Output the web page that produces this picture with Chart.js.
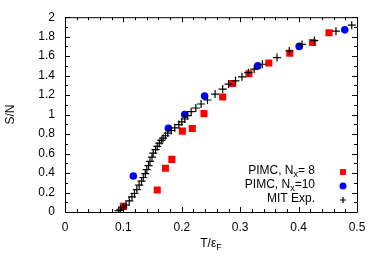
<!DOCTYPE html>
<html>
<head>
<meta charset="utf-8">
<script src="https://cdn.jsdelivr.net/npm/chart.js@4"></script>
<style>
  html, body { margin: 0; padding: 0; background: #fff; }
  canvas { display: block; }
</style>
</head>
<body>
<canvas id="chart" width="382" height="268"></canvas>
<script>
// PIMC, Nx = 8
const tPimc8 = [0.100, 0.158, 0.172, 0.183, 0.201, 0.218, 0.238, 0.270, 0.287, 0.315, 0.349, 0.385, 0.424, 0.452];
const sPimc8 = [0.058, 0.225, 0.45, 0.54, 0.83, 0.857, 1.01, 1.18, 1.32, 1.42, 1.53, 1.63, 1.74, 1.84];

// PIMC, Nx = 10
const tPimc10 = [0.117, 0.177, 0.205, 0.239, 0.330, 0.401, 0.479];
const sPimc10 = [0.37, 0.86, 1.00, 1.19, 1.50, 1.70, 1.87];

// MIT experiment
const tMit = [0.092, 0.095, 0.0998, 0.1045, 0.110, 0.1147, 0.119, 0.123, 0.127, 0.131, 0.134, 0.1375, 0.140, 0.143, 0.1455, 0.149, 0.151, 0.155, 0.158, 0.1615, 0.165, 0.168, 0.172, 0.176, 0.182, 0.188, 0.195, 0.200, 0.205, 0.210, 0.216, 0.224, 0.233, 0.244, 0.257, 0.270, 0.280, 0.292, 0.303, 0.314, 0.324, 0.338, 0.363, 0.384, 0.406, 0.427, 0.464, 0.491];
const sMit = [0.015, 0.028, 0.048, 0.071, 0.115, 0.156, 0.19, 0.23, 0.276, 0.316, 0.354, 0.395, 0.436, 0.477, 0.52, 0.564, 0.605, 0.64, 0.673, 0.707, 0.735, 0.758, 0.783, 0.81, 0.837, 0.864, 0.898, 0.926, 0.955, 0.99, 1.03, 1.068, 1.109, 1.15, 1.211, 1.262, 1.313, 1.347, 1.388, 1.43, 1.466, 1.517, 1.585, 1.653, 1.72, 1.76, 1.857, 1.918];

// axis ticks
const xTicks = [0, 0.1, 0.2, 0.3, 0.4, 0.5];
const xTickLabels = ['0', '0.1', '0.2', '0.3', '0.4', '0.5'];
const yTicks = [0, 0.2, 0.4, 0.6, 0.8, 1, 1.2, 1.4, 1.6, 1.8, 2];
const yTickLabels = ['0', '0.2', '0.4', '0.6', '0.8', '1', '1.2', '1.4', '1.6', '1.8', '2'];

const FONT = 'Liberation Sans, Arial, Helvetica, sans-serif';

function toPoints(xs, ys) {
    return xs.map((x, i) => ({ x: x, y: ys[i] }));
}

function labelFor(ticks, labels, v) {
    const i = ticks.findIndex(t => Math.abs(t - v) < 1e-6);
    return i >= 0 ? labels[i] : '';
}

const datasets = [
    {
        label: 'PIMC, Nx= 8',
        data: toPoints(tPimc8, sPimc8),
        pointStyle: 'rect',
        pointRadius: 5,
        pointBackgroundColor: '#ff0000',
        pointBorderWidth: 0,
        order: 3
    },
    {
        label: 'PIMC, Nx=10',
        data: toPoints(tPimc10, sPimc10),
        pointStyle: 'circle',
        pointRadius: 3.8,
        pointBackgroundColor: '#0000ff',
        pointBorderWidth: 0,
        order: 2
    },
    {
        label: 'MIT Exp.',
        data: toPoints(tMit, sMit),
        pointStyle: 'cross',
        pointRadius: 4,
        pointBorderColor: '#000000',
        pointBorderWidth: 1.2,
        order: 1
    }
];

// legend marker sizes are a bit smaller than in the plot
const legendRadius = [4.2, 3.5, 3];

// frame with inward major and minor ticks on all four sides
const framePlugin = {
    id: 'frame',
    beforeDatasetsDraw(chart) {
        const ctx = chart.ctx;
        const a = chart.chartArea;
        const xs = chart.scales.x;
        const ys = chart.scales.y;
        ctx.save();
        ctx.strokeStyle = '#000';
        ctx.lineWidth = 1;
        ctx.beginPath();
        ctx.rect(a.left + 0.5, a.top + 0.5, a.right - a.left, a.bottom - a.top);
        ctx.stroke();

        ctx.beginPath();
        for (let i = 0; i <= 25; i++) {
            const v = i * 0.02;
            const px = Math.round(xs.getPixelForValue(v)) + 0.5;
            const len = (i % 5 === 0) ? 5 : 3;
            ctx.moveTo(px, a.bottom);
            ctx.lineTo(px, a.bottom - len);
            ctx.moveTo(px, a.top);
            ctx.lineTo(px, a.top + len);
        }
        for (let i = 0; i <= 20; i++) {
            const v = i * 0.1;
            const py = Math.round(ys.getPixelForValue(v)) + 0.5;
            const len = (i % 2 === 0) ? 5 : 3;
            ctx.moveTo(a.left, py);
            ctx.lineTo(a.left + len, py);
            ctx.moveTo(a.right, py);
            ctx.lineTo(a.right - len, py);
        }
        ctx.stroke();
        ctx.restore();
    }
};

// draws text pieces, where a piece may be a subscript
function drawPieces(ctx, pieces, xRight, y) {
    const widths = pieces.map(p => {
        ctx.font = (p.sub ? '9px ' : '12px ') + FONT;
        return ctx.measureText(p.t).width;
    });
    let x = xRight - widths.reduce((s, w) => s + w, 0);
    pieces.forEach((p, i) => {
        ctx.font = (p.sub ? '9px ' : '12px ') + FONT;
        ctx.fillText(p.t, x, p.sub ? y + 4 : y);
        x += widths[i];
    });
}

const annotatePlugin = {
    id: 'annotate',
    afterDraw(chart) {
        const ctx = chart.ctx;
        const a = chart.chartArea;
        ctx.save();
        ctx.fillStyle = '#000';
        ctx.textAlign = 'left';
        ctx.textBaseline = 'middle';

        // legend
        const rows = [
            [{ t: 'PIMC, N' }, { t: 'x', sub: true }, { t: '= 8' }],
            [{ t: 'PIMC, N' }, { t: 'x', sub: true }, { t: '=10' }],
            [{ t: 'MIT Exp.' }]
        ];
        const rowY = [171, 185, 199];
        const textRight = 315;
        const markX = 343;
        rows.forEach((pieces, i) => {
            ctx.fillStyle = '#000';
            drawPieces(ctx, pieces, textRight, rowY[i]);
            const ds = chart.data.datasets[i];
            ctx.fillStyle = ds.pointBackgroundColor || '#000';
            ctx.strokeStyle = ds.pointBorderColor || '#000';
            ctx.lineWidth = ds.pointBorderWidth;
            Chart.helpers.drawPoint(ctx, {
                pointStyle: ds.pointStyle,
                radius: legendRadius[i],
                rotation: 0,
                borderWidth: ds.pointBorderWidth
            }, markX, rowY[i] + 1);
        });

        // x axis title
        ctx.fillStyle = '#000';
        const cx = (a.left + a.right) / 2;
        ctx.font = '12px ' + FONT;
        const w1 = ctx.measureText('T/\u03b5').width;
        ctx.font = '9px ' + FONT;
        const w2 = ctx.measureText('F').width;
        drawPieces(ctx, [{ t: 'T/\u03b5' }, { t: 'F', sub: true }], cx + (w1 + w2) / 2, 244);

        // y axis title
        ctx.translate(11, (a.top + a.bottom) / 2);
        ctx.rotate(-Math.PI / 2);
        ctx.textAlign = 'center';
        ctx.font = '12px ' + FONT;
        ctx.fillText('S/N', 0, 0);
        ctx.restore();
    }
};

new Chart(document.getElementById('chart'), {
    type: 'scatter',
    data: { datasets: datasets },
    options: {
        responsive: false,
        animation: false,
        devicePixelRatio: 1,
        layout: { padding: { left: 0, right: 25, top: 16, bottom: 0 } },
        plugins: {
            legend: { display: false },
            tooltip: { enabled: false }
        },
        elements: { point: { hoverRadius: 0 } },
        scales: {
            x: {
                type: 'linear',
                min: 0,
                max: 0.5,
                afterFit(scale) { scale.height = 56; },
                afterBuildTicks(scale) { scale.ticks = xTicks.map(v => ({ value: v })); },
                grid: { display: false, drawTicks: false },
                border: { display: false },
                ticks: {
                    padding: 8,
                    color: '#000',
                    maxRotation: 0,
                    font: { family: FONT, size: 12 },
                    callback: v => labelFor(xTicks, xTickLabels, v)
                }
            },
            y: {
                type: 'linear',
                min: 0,
                max: 2,
                afterFit(scale) { scale.width = 65; },
                afterBuildTicks(scale) { scale.ticks = yTicks.map(v => ({ value: v })); },
                grid: { display: false, drawTicks: false },
                border: { display: false },
                ticks: {
                    padding: 10,
                    color: '#000',
                    font: { family: FONT, size: 12 },
                    callback: v => labelFor(yTicks, yTickLabels, v)
                }
            }
        }
    },
    plugins: [framePlugin, annotatePlugin]
});
</script>
</body>
</html>
